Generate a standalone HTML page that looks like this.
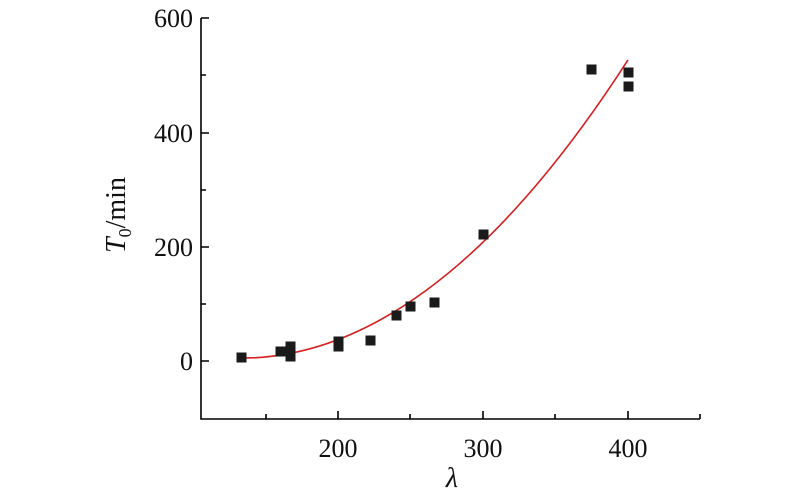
<!DOCTYPE html>
<html><head><meta charset="utf-8"><style>body{margin:0;background:#fff}</style></head><body>
<svg width="800" height="494" xmlns="http://www.w3.org/2000/svg" font-family="Liberation Serif, serif">
<g stroke="#000" stroke-width="1.6" fill="none">
<path d="M201,18 V419 H700"/>
<path d="M201,18h8 M201,133h8 M201,247h8 M201,361h8 M201,75h5 M201,190h5 M201,304h5"/>
<path d="M338,419v-8 M483,419v-8 M628,419v-8 M266,419v-5 M410,419v-5 M555,419v-5 M700,419v-5"/>
</g>
<g font-size="26" text-anchor="end" fill="#111">
<text x="193" y="27">600</text><text x="193" y="142">400</text><text x="193" y="256">200</text><text x="193" y="370">0</text>
</g>
<g font-size="26" text-anchor="middle" fill="#111">
<text x="338" y="457">200</text><text x="483" y="457">300</text><text x="628" y="457">400</text>
<text x="452" y="487" font-style="italic" font-size="28">λ</text>
</g>
<text transform="translate(125,215) rotate(-90)" font-size="28" text-anchor="middle" fill="#111"><tspan font-style="italic">T</tspan><tspan font-size="18" dy="6">0</tspan><tspan dy="-6">/min</tspan></text>
<path d="M241,358.1 Q436,358.1 628,59.9" stroke="#d42020" stroke-width="1.6" fill="none"/>
<g fill="#1a1a1a">
<rect x="236.5" y="352.5" width="10" height="10"/><rect x="275.5" y="346.5" width="10" height="10"/>
<rect x="285.5" y="341.5" width="10" height="10"/><rect x="285.5" y="351.5" width="10" height="10"/>
<rect x="333.5" y="336.5" width="10" height="10"/><rect x="333.5" y="341.5" width="10" height="10"/>
<rect x="365.5" y="335.5" width="10" height="10"/><rect x="391.5" y="310.5" width="10" height="10"/>
<rect x="405.5" y="301.5" width="10" height="10"/><rect x="429.5" y="297.5" width="10" height="10"/>
<rect x="478.5" y="229.5" width="10" height="10"/><rect x="586.5" y="64.5" width="10" height="10"/>
<rect x="623.5" y="67.5" width="10" height="10"/><rect x="623.5" y="81.5" width="10" height="10"/>
</g>
</svg>
</body></html>
